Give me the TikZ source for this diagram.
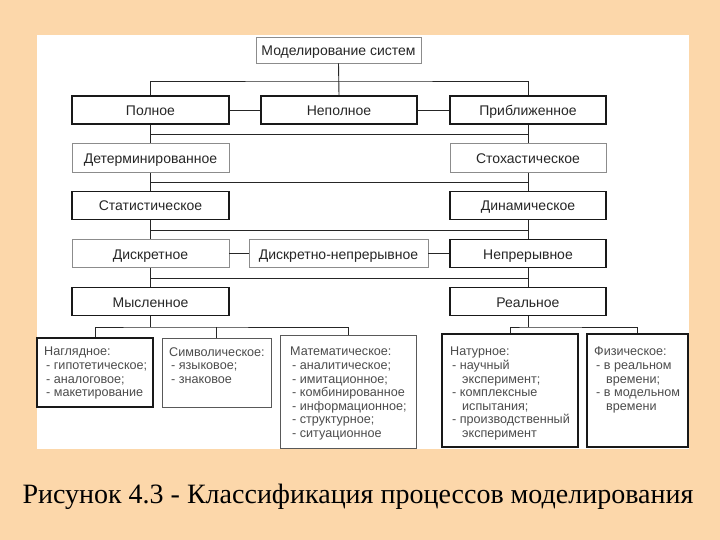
\documentclass[tikz,border=0pt]{standalone}
\usepackage{fontspec}
\setmainfont{Liberation Sans}
\newfontfamily\capfont{Liberation Serif}
\definecolor{bg}{HTML}{FCD7AA}
\tikzset{
  box/.style={draw=black!90, line width=1.3pt, fill=white, minimum height=28pt, inner sep=0pt,
    text height=11pt, text depth=0pt,
    font=\fontsize{14}{15}\selectfont, text=black!85},
  lbox/.style={box, draw=black!45, line width=0.9pt},
  mbox/.style={box, draw=black!65, line width=1pt},
  link/.style={line width=0.9pt, draw=black!85},
  btxt/.style={align=left, inner sep=0pt, anchor=north west, font=\fontsize{12.6}{13.6}\selectfont, text=black!70}
}
\begin{document}
\begin{tikzpicture}[x=1pt,y=-1pt]
\useasboundingbox (0,0) rectangle (720,540);
\fill[bg] (0,0) rectangle (720,540);
\fill[white] (37,35) rectangle (689,449);

\coordinate (h0) at (0,81);
\coordinate (h1) at (0,134);
\coordinate (h2) at (0,182);
\coordinate (h3) at (0,230);
\coordinate (h4) at (0,278);
\coordinate (h5) at (0,327);

\node[lbox, minimum width=165pt, minimum height=26pt] (top) at (338.5,50) {Моделирование систем};
\node[box, minimum width=157pt] (pol) at (150.5,110) {Полное};
\node[box, minimum width=156pt] (nepol) at (339,110) {Неполное};
\node[box, minimum width=156pt] (pribl) at (528,110) {Приближенное};
\node[lbox, minimum width=157pt, minimum height=29pt] (det) at (150.5,158) {Детерминированное};
\node[lbox, minimum width=156pt, minimum height=29pt] (stoh) at (528,158) {Стохастическое};
\node[box, minimum width=157pt] (stat) at (150.5,205.5) {Статистическое};
\node[box, minimum width=156pt] (din) at (528,205.5) {Динамическое};
\node[lbox, minimum width=157pt] (diskr) at (150.5,253.5) {Дискретное};
\node[lbox, minimum width=179pt] (dn) at (338.5,253.5) {Дискретно-непрерывное};
\node[box, minimum width=156pt] (nepr) at (528,253.5) {Непрерывное};
\node[box, minimum width=157pt] (mysl) at (150.5,301.5) {Мысленное};
\node[box, minimum width=156pt] (real) at (528,301.5) {Реальное};

\node[box, minimum width=116pt, minimum height=69pt] (nagl) at (95,372.5) {};
\node[mbox, minimum width=109pt, minimum height=69pt] (simv) at (216.5,372.5) {};
\node[mbox, minimum width=136pt, minimum height=113pt] (mat) at (348,391.5) {};
\node[box, minimum width=136pt, minimum height=113pt] (nat) at (510,390.5) {};
\node[box, minimum width=101pt, minimum height=113pt] (fiz) at (637.5,390.5) {};

\node[btxt] (naglt) at (44,347) {Наглядное:\\\hspace*{2pt}- гипотетическое;\\\hspace*{2pt}- аналоговое;\\\hspace*{2pt}- макетирование};
\node[btxt] (simvt) at (169,347) {Символическое:\\\hspace*{2pt}- языковое;\\\hspace*{2pt}- знаковое};
\node[btxt] (matt) at (290,347) {Математическое:\\\hspace*{2pt}- аналитическое;\\\hspace*{2pt}- имитационное;\\\hspace*{2pt}- комбинированное\\\hspace*{2pt}- информационное;\\\hspace*{2pt}- структурное;\\\hspace*{2pt}- ситуационное};
\node[btxt] (natt) at (450,347) {Натурное:\\\hspace*{2pt}- научный\\\hspace*{12pt}эксперимент;\\\hspace*{2pt}- комплексные\\\hspace*{12pt}испытания;\\\hspace*{2pt}- производственный\\\hspace*{12pt}эксперимент};
\node[btxt] (fizt) at (594,347) {Физическое:\\\hspace*{2pt}- в реальном\\\hspace*{12pt}времени;\\\hspace*{2pt}- в модельном\\\hspace*{12pt}времени};

% connectors
\draw[link] (top.south) -- (nepol.north);
\draw[link] (pol.north) |- (top.south |- h0) -| (pribl.north);
\draw[link] (pol.east) -- (nepol.west);
\draw[link] (nepol.east) -- (pribl.west);

\draw[link] (pol.south) -- (det.north);
\draw[link] (pribl.south) -- (stoh.north);
\draw[link] (pol.south |- h1) -- (pribl.south |- h1);

\draw[link] (det.south) -- (stat.north);
\draw[link] (stoh.south) -- (din.north);
\draw[link] (det.south |- h2) -- (stoh.south |- h2);

\draw[link] (stat.south) -- (diskr.north);
\draw[link] (din.south) -- (nepr.north);
\draw[link] (stat.south |- h3) -- (din.south |- h3);

\draw[link] (diskr.east) -- (dn.west);
\draw[link] (dn.east) -- (nepr.west);

\draw[link] (diskr.south) -- (mysl.north);
\draw[link] (nepr.south) -- (real.north);
\draw[link] (diskr.south |- h4) -- (nepr.south |- h4);

\draw[link] (mysl.south) -- (mysl.south |- h5);
\draw[link] (nagl.north) |- (mysl.south |- h5) -| (mat.north);
\draw[link] (simv.north) -- (simv.north |- h5);
\draw[link] (real.south) -- (real.south |- h5);
\draw[link] (nat.north) |- (real.south |- h5) -| (fiz.north);

\node[font=\capfont\fontsize{28}{30}\selectfont, anchor=base, inner sep=0pt] (cap) at (358,503) {Рисунок 4.3 - Классификация процессов моделирования};
\end{tikzpicture}
\end{document}
